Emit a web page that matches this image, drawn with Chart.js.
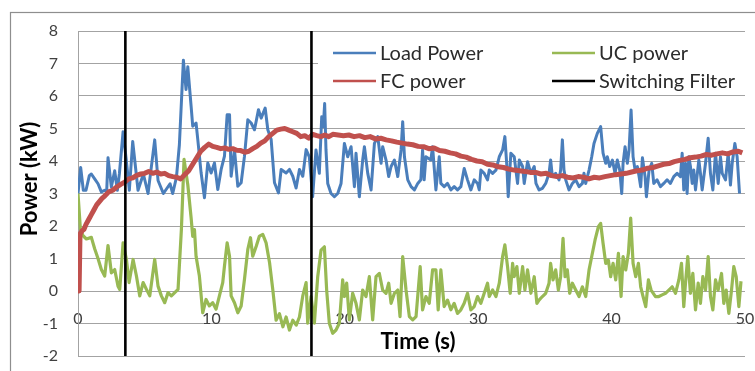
<!DOCTYPE html>
<html><head><meta charset="utf-8">
<script src="https://cdn.jsdelivr.net/npm/chart.js@4/dist/chart.umd.min.js"></script>
<style>html,body{margin:0;padding:0;background:#fff}#wrap{width:755px;height:371px;position:relative}</style>
</head><body><div id="wrap"><canvas id="c"></canvas></div>
<script>
// ---- data ----
const seriesNames = ['Load Power', 'UC power', 'FC power', 'Switching Filter'];
const xTitle = 'Time (s)';
const yTitle = 'Power (kW)';
const xMin = 0, xMax = 50, xStep = 10;
const yMin = -2, yMax = 8, yStep = 1;

const loadT = [0,0.2,0.4,0.6,0.85,1.0,1.25,1.5,1.75,2.0,2.15,2.25,2.5,2.75,2.95,3.1,3.38,3.6,3.85,4.1,4.5,4.9,5.25,5.75,6.0,6.4,6.9,7.1,7.38,7.6,7.9,8.1,
8.23,8.48,8.6,8.85,8.98,9.23,9.48,9.73,9.98,10.23,10.48,10.73,10.98,11.18,11.36,11.48,11.73,11.98,12.23,12.48,12.73,12.98,13.23,13.53,13.73,14.03,14.23,14.48,14.73,15.03,15.23,15.6,15.85,16.1,16.35,16.6,16.85,17.1,
17.34,17.59,17.84,18.09,18.27,18.39,18.49,18.59,18.72,18.97,19.22,19.47,19.72,19.97,20.22,20.47,20.72,20.84,21.09,21.34,21.47,21.72,21.97,22.22,22.47,22.72,22.84,23.09,23.29,23.47,23.72,23.97,24.22,24.34,24.47,24.72,24.97,25.22,25.47,
25.7,25.83,25.95,26.08,26.45,26.58,26.83,27.08,27.2,27.45,27.7,27.95,28.2,28.45,28.7,28.95,29.2,29.45,29.7,29.95,30.08,30.2,30.45,30.7,30.83,31.08,31.33,31.58,31.83,32.0,32.15,32.25,32.45,32.7,32.95,33.08,33.33,33.45,33.7,33.95,34.2,34.33,
34.56,34.81,35.06,35.31,35.43,35.56,35.81,36.06,36.18,36.31,36.43,36.56,36.81,37.06,37.31,37.56,37.81,37.93,38.06,38.31,38.51,38.68,38.93,39.18,39.36,39.56,39.68,39.86,40.06,40.26,40.43,40.61,40.76,40.86,41.01,41.18,41.31,41.46,41.61,41.76,41.93,42.06,42.18,42.31,42.51,42.61,42.81,43.01,
43.16,43.41,43.66,43.91,44.16,44.41,44.66,44.91,45.16,45.29,45.41,45.54,45.66,45.79,45.91,46.04,46.16,46.29,46.54,46.66,46.79,47.04,47.24,47.41,47.59,47.79,47.99,48.16,48.29,48.54,48.74,48.91,49.04,49.24,49.41,49.59];
const loadP = [3.0,3.8,3.1,3.1,3.55,3.6,3.45,3.3,3.05,3.1,3.05,4.1,3.2,3.7,3.1,3.6,4.9,4.1,3.1,4.6,3.1,3.6,3.0,4.65,3.4,3.0,3.3,3.0,3.5,4.5,7.1,6.2,
6.9,5.68,5.07,5.17,4.66,3.63,2.87,3.94,3.63,3.94,3.12,3.74,4.15,5.42,5.42,3.53,4.35,3.22,3.33,4.15,5.27,5.17,4.96,5.58,5.32,5.63,4.96,4.66,3.33,3.02,3.74,3.63,3.74,3.53,3.17,3.74,3.53,4.35,
4.13,2.9,4.34,3.62,5.36,5.06,5.77,4.34,3.31,3.0,2.9,3.0,3.31,4.54,4.13,4.44,3.21,4.24,2.9,4.03,4.44,3.62,3.11,4.54,4.75,3.93,4.44,4.03,3.52,3.83,4.03,3.52,4.34,5.21,4.13,3.42,3.21,3.11,3.31,
3.42,4.34,3.42,4.13,4.03,4.44,3.11,4.13,3.31,3.21,3.31,3.11,3.21,3.11,3.21,3.77,3.42,3.11,3.42,3.31,3.11,3.72,3.62,3.42,3.72,3.62,3.72,4.13,4.34,4.75,3.83,2.9,4.24,4.13,3.31,4.03,3.83,3.31,3.98,3.62,3.83,3.31,
3.11,3.16,3.31,3.62,4.03,3.52,3.62,3.42,3.72,4.65,3.72,3.42,3.11,3.31,3.42,3.21,3.31,3.62,3.31,3.72,4.13,4.54,4.85,5.06,4.24,3.93,4.13,3.83,4.03,3.62,4.03,3.72,3.0,3.93,4.44,3.93,4.34,5.57,4.13,3.72,3.83,3.52,3.21,4.1,3.52,2.9,3.72,3.93,
3.31,3.42,3.21,3.31,3.42,3.31,3.52,3.62,3.52,4.24,3.11,3.93,3.0,4.13,3.83,3.31,3.72,3.11,4.03,3.62,3.11,3.93,4.7,3.62,3.11,4.24,3.31,4.13,3.62,3.42,4.24,3.26,3.93,4.54,4.13,3.0];

const ucT = [0,0.18,0.38,0.63,1.0,1.25,1.5,1.75,2.0,2.25,2.5,2.75,3.0,3.13,3.38,3.63,3.83,4.13,4.38,4.63,4.88,5.13,5.38,5.75,6.0,6.25,6.5,6.75,7.0,7.25,7.5,7.75,7.95,
8.23,8.48,8.6,8.73,8.85,9.1,9.35,9.6,9.85,10.1,10.35,10.6,10.85,10.98,11.18,11.36,11.48,11.73,11.98,12.23,12.48,12.73,12.93,13.1,13.36,13.6,13.85,14.1,14.36,14.6,14.85,15.1,15.36,15.6,15.85,16.1,16.36,16.6,16.85,17.1,
17.22,17.47,17.72,17.97,18.22,18.47,18.64,18.84,19.09,19.34,19.59,19.84,19.97,20.14,20.34,20.59,20.84,21.09,21.34,21.59,21.84,22.09,22.34,22.59,22.84,23.09,23.29,23.47,23.72,23.97,24.14,24.34,24.59,24.84,25.09,25.34,
25.65,25.83,26.08,26.33,26.58,26.83,27.0,27.2,27.45,27.7,27.95,28.2,28.45,28.7,28.95,29.2,29.45,29.7,29.95,30.2,30.45,30.7,30.83,31.08,31.33,31.58,31.83,32.0,32.2,32.4,32.58,32.7,32.9,33.08,33.33,33.5,33.7,33.95,34.2,34.4,
34.56,34.81,35.06,35.31,35.43,35.61,35.81,36.01,36.18,36.36,36.51,36.68,36.86,37.06,37.31,37.56,37.81,38.06,38.31,38.51,38.76,39.01,39.18,39.36,39.56,39.76,39.93,40.11,40.31,40.51,40.71,40.86,41.06,41.26,41.43,41.61,41.81,42.01,42.18,42.36,42.56,42.76,42.96,
43.29,43.54,43.79,44.04,44.29,44.54,44.79,45.04,45.24,45.41,45.54,45.71,45.91,46.09,46.29,46.49,46.66,46.84,47.04,47.24,47.41,47.59,47.79,47.99,48.24,48.41,48.59,48.79,48.99,49.16,49.34,49.54,49.7];
const ucP = [3.0,1.9,1.7,1.6,1.65,1.3,1.0,0.66,0.46,1.4,0.56,0.66,0.15,0.05,1.48,0.97,0.26,0.97,0.46,-0.15,0.26,0.05,-0.15,0.97,0.15,-0.15,-0.36,-0.05,-0.15,-0.05,0.05,1.89,4.05,
3.27,2.25,1.68,1.89,1.07,0.46,-0.67,-0.26,-0.46,-0.36,-0.56,-0.15,0.26,0.77,1.48,1.07,-0.15,-0.36,-0.67,-0.46,0.36,1.28,1.64,1.07,1.38,1.69,1.74,1.48,0.87,0.05,-0.9,-0.7,-1.1,-0.8,-1.2,-0.9,-1.05,-0.8,-0.15,0.26,
-0.99,-0.17,-0.99,0.44,1.26,1.36,0.03,-0.99,-1.3,-1.2,-0.99,0.34,-0.17,0.24,-0.89,-0.07,-0.38,-0.89,0.03,-0.17,0.44,-0.89,0.44,0.54,0.03,-0.07,0.24,-0.38,-0.07,0.03,-0.79,1.06,0.03,-0.79,-0.89,-0.79,
0.75,-0.58,-0.17,-0.38,0.65,0.65,-0.58,0.65,-0.48,-0.28,-0.58,-0.38,-0.69,-0.58,-0.38,-0.07,-0.58,-0.48,-0.17,-0.38,-0.07,0.24,-0.17,0.03,-0.17,0.24,1.06,1.42,0.75,-0.07,0.85,0.44,0.75,-0.07,0.75,0.03,0.65,-0.07,0.44,-0.38,
-0.28,-0.17,-0.07,0.24,0.85,0.34,0.65,0.03,0.44,1.62,0.44,0.65,-0.07,0.24,0.03,-0.17,0.13,-0.17,0.65,1.06,1.57,1.98,2.08,1.47,0.85,0.95,0.44,0.85,0.34,1.16,-0.17,1.06,0.65,1.16,2.24,0.85,0.44,0.85,0.13,-0.17,-0.48,0.34,0.03,
-0.17,-0.17,-0.12,-0.07,0.03,0.13,-0.07,0.34,0.85,-0.48,0.24,1.06,-0.07,0.54,-0.58,0.24,-0.38,0.44,0.03,1.06,-0.17,-0.58,0.34,0.03,0.54,-0.38,0.03,-0.69,0.03,0.75,0.44,-0.48,0.3];

const fcT = [0,0.08,0.15,0.3,0.45,0.6,0.8,1.0,1.2,1.4,1.6,1.8,2.0,
2.3,2.6,2.9,3.2,3.5,3.8,4.1,4.4,4.7,5.0,5.3,5.6,5.9,6.2,6.5,6.8,7.1,7.4,7.7,8.0,
8.3,8.6,8.9,9.2,9.5,9.8,10.1,10.4,10.7,11.0,11.3,11.6,11.9,12.2,12.5,12.8,13.1,13.4,13.7,14.0,
14.3,14.6,14.9,15.2,15.5,15.8,16.1,16.4,16.7,17.0,17.3,17.6,17.9,18.2,18.5,18.8,19.1,
19.5,19.9,20.3,20.7,21.1,21.5,21.9,22.3,22.7,23.1,23.5,23.9,24.3,24.7,25.1,25.5,25.9,26.3,26.7,27.1,
27.5,27.9,28.3,28.7,29.1,29.5,29.9,30.3,30.7,31.1,31.5,31.9,32.3,32.7,33.1,33.5,33.9,34.3,34.7,35.1,
35.5,35.9,36.3,36.7,37.1,37.5,37.9,38.3,38.7,39.1,39.5,39.9,40.3,40.7,41.1,41.5,41.9,42.3,42.7,43.1,
43.5,43.9,44.3,44.7,45.1,45.5,45.9,46.3,46.7,47.1,47.5,47.9,48.3,48.7,49.1,49.5,49.8];
const fcP = [0,0,1.75,1.85,1.9,2.05,2.2,2.35,2.5,2.65,2.75,2.85,2.92,
3.05,3.1,3.2,3.28,3.35,3.45,3.48,3.56,3.6,3.62,3.68,3.62,3.66,3.6,3.62,3.55,3.52,3.5,3.45,3.58,
3.7,3.9,4.1,4.3,4.42,4.52,4.45,4.42,4.38,4.4,4.36,4.38,4.33,4.32,4.27,4.3,4.38,4.45,4.55,4.62,
4.75,4.85,4.95,4.98,5.0,4.95,4.9,4.85,4.75,4.78,4.7,4.82,4.78,4.75,4.8,4.75,4.82,
4.8,4.78,4.8,4.75,4.78,4.72,4.75,4.68,4.7,4.65,4.62,4.58,4.55,4.52,4.5,4.45,4.44,4.38,4.4,4.32,
4.3,4.25,4.22,4.15,4.12,4.05,4.0,3.98,3.9,3.88,3.82,3.8,3.75,3.72,3.7,3.68,3.65,3.65,3.6,3.62,
3.55,3.52,3.55,3.5,3.48,3.52,3.5,3.45,3.5,3.48,3.52,3.55,3.58,3.6,3.62,3.66,3.7,3.72,3.78,3.8,
3.85,3.9,3.92,3.98,4.02,4.05,4.1,4.12,4.15,4.2,4.18,4.22,4.25,4.22,4.28,4.3,4.25];

// switching instants (vertical markers spanning the full value range)
const switchT = [3.55, 17.5];

// ---- build chart ----
const FONT = 'Lato, "Open Sans", sans-serif';
const colors = {load: '#4a7ebb', uc: '#98b954', fc: '#c0504d', sw: '#000000'};
function pts(t, v) { return t.map((x, i) => ({x: x, y: v[i]})); }
const switchPts = [];
switchT.forEach((t, i) => {
  if (i > 0) switchPts.push({x: t, y: null});
  switchPts.push({x: t, y: yMin}, {x: t, y: yMax});
});

const decor = {
  id: 'decor',
  beforeDraw(chart) {
    const ctx = chart.ctx;
    ctx.save();
    ctx.fillStyle = '#fff';
    ctx.fillRect(0, 0, chart.width, chart.height);
    ctx.strokeStyle = '#8e8e8e';
    ctx.lineWidth = 1.2;
    ctx.strokeRect(10.5, 12.5, chart.width + 20, chart.height + 20);
    ctx.restore();
  },
  beforeDatasetsDraw(chart) {
    const ctx = chart.ctx, a = chart.chartArea;
    ctx.save();
    ctx.fillStyle = '#fff';
    ctx.fillRect(318, a.top + 2, a.right - 318 + 2, 60);
    ctx.restore();
  },
  afterDraw(chart) {
    const ctx = chart.ctx;
    ctx.save();
    // legend (2 x 2): Load, UC / FC, Switching
    const colX = [333, 552], rowY = [53, 81];
    ctx.font = '20px ' + FONT;
    ctx.textBaseline = 'middle';
    ctx.textAlign = 'left';
    chart.data.datasets.forEach((ds, k) => {
      const x = colX[k % 2], y = rowY[Math.floor(k / 2)];
      ctx.strokeStyle = ds.borderColor;
      ctx.lineWidth = 2.5;
      ctx.beginPath(); ctx.moveTo(x, y); ctx.lineTo(x + 43, y); ctx.stroke();
      ctx.fillStyle = '#2b2b2b';
      ctx.fillText(ds.label, x + 47, y + 1);
    });
    // axis titles
    ctx.fillStyle = '#000';
    ctx.font = 'bold 22px ' + FONT;
    ctx.textAlign = 'center';
    ctx.fillText(xTitle, 418, 342);
    ctx.translate(30, 179);
    ctx.rotate(-Math.PI / 2);
    ctx.fillText(yTitle, 0, 0);
    ctx.restore();
  }
};

new Chart(document.getElementById('c'), {
  type: 'line',
  data: {
    datasets: [
      {label: seriesNames[0], data: pts(loadT, loadP), borderColor: colors.load, borderWidth: 3, order: 3},
      {label: seriesNames[1], data: pts(ucT, ucP), borderColor: colors.uc, borderWidth: 3.2, order: 2},
      {label: seriesNames[2], data: pts(fcT, fcP), borderColor: colors.fc, borderWidth: 5, order: 1},
      {label: seriesNames[3], data: switchPts, borderColor: colors.sw, borderWidth: 2.6, order: 0}
    ]
  },
  options: {
    responsive: true,
    maintainAspectRatio: false,
    animation: false,
    devicePixelRatio: 1,
    elements: {point: {radius: 0}, line: {tension: 0, fill: false, borderJoinStyle: 'round'}},
    layout: {padding: {left: 10, top: 31, right: 10, bottom: 15}},
    plugins: {legend: {display: false}, tooltip: {enabled: false}},
    scales: {
      x: {
        type: 'linear', min: xMin, max: xMax,
        position: {y: 0},
        grid: {display: false, drawTicks: false},
        border: {display: false},
        ticks: {stepSize: xStep, color: '#404040', font: {family: FONT, size: 16}, padding: 18, maxRotation: 0},
        afterFit(s) { s.height = 0; s.paddingLeft = 0; s.paddingRight = 0; s.paddingTop = 0; s.paddingBottom = 0; }
      },
      y: {
        min: yMin, max: yMax,
        grid: {color: '#a3a3a3', lineWidth: 1, drawTicks: false},
        border: {display: true, color: '#a3a3a3'},
        ticks: {stepSize: yStep, color: '#404040', font: {family: FONT, size: 16}, padding: 20},
        afterFit(s) { s.width = 68; s.paddingTop = 0; s.paddingBottom = 0; }
      }
    }
  },
  plugins: [decor]
});
</script></body></html>
